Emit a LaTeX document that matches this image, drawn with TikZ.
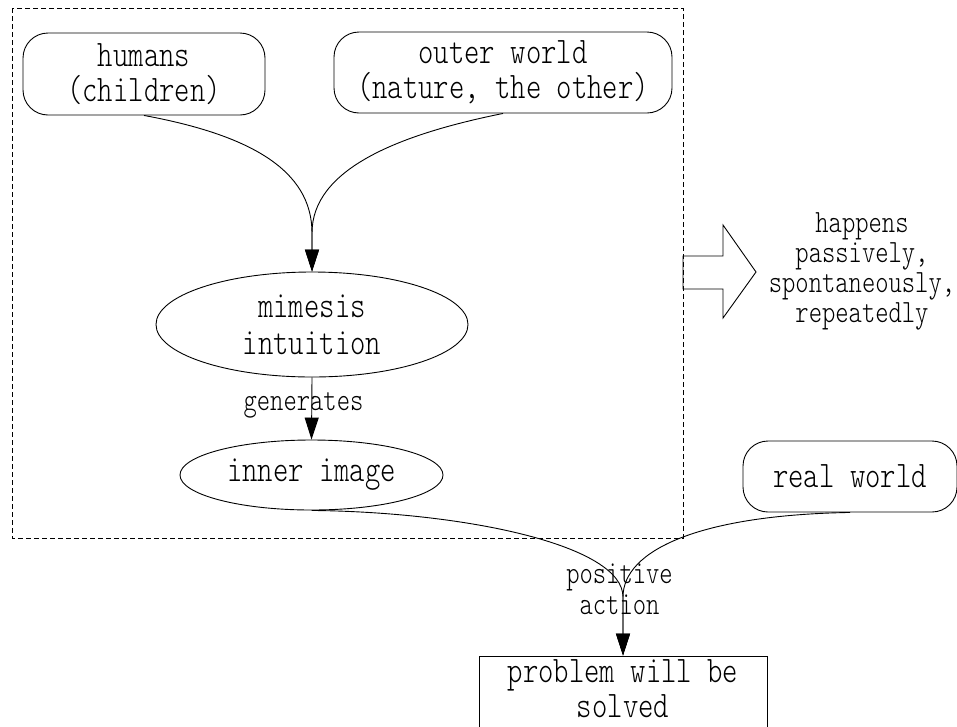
\documentclass[tikz,border=0pt]{standalone}
\usepackage{fontspec}
\usetikzlibrary{arrows.meta,shapes.geometric}
\newfontfamily\bigmono{lmmonolt10-regular.otf}[FakeStretch=0.78]
\tikzset{
  bigtxt/.style={font=\bigmono\fontsize{37.5}{35}\selectfont, align=center, inner sep=0pt},
  smalltxt/.style={font=\bigmono\fontsize{32.5}{30}\selectfont, align=center, inner sep=0pt},
  roundbox/.style={bigtxt, draw, rounded corners=25pt},
  ellnode/.style={bigtxt, draw, ellipse},
  conn/.style={line width=0.9pt},
  arr/.style={conn, -{Triangle[length=22pt,width=14pt]}},
}
\begin{document}
\begin{tikzpicture}[x=1pt,y=1pt,line width=0.9pt]
\clip (0,0) rectangle (957,-726);
\fill[white] (0,0) rectangle (957,-726);
% dashed cluster
\draw[dash pattern=on 5pt off 3pt, line width=0.8pt] (12,-8) rectangle (683,-538);
% nodes
\node[roundbox, minimum width=242pt, minimum height=82pt] (humans) at (144,-74) {humans\\(children)};
\node[roundbox, minimum width=338pt, minimum height=81pt] (outer) at (503,-72.5) {outer world\\(nature, the other)};
\node[ellnode, minimum width=312pt, minimum height=105pt] (mimesis) at (312,-324.5) {mimesis\\[2pt]intuition};
\node[ellnode, minimum width=263pt, minimum height=70pt] (inner) at (311.5,-475) {inner image};
\node[roundbox, minimum width=214pt, minimum height=71pt] (real) at (850,-476.5) {real world};
\node[draw, inner sep=0pt, minimum width=288pt, minimum height=100pt] (problem) at (623,-706) {};
\node[bigtxt] (problemtext) at (623,-689) {problem will be\\solved};
\node[smalltxt] (happens) at (862,-271) {happens\\passively,\\spontaneously,\\repeatedly};
% hollow arrow
\draw (683,-256) -- (723,-256) -- (723,-225) -- (756,-272) -- (723,-318) -- (723,-289) -- (683,-289) -- cycle;
% merge points
\coordinate (m1) at (312,-233);
\coordinate (m2) at (623,-597);
% edges
\draw[arr] (humans.south) .. controls (250,-135) and (312,-170) .. (m1) -- (mimesis.north);
\draw[arr] (outer.south) .. controls (396,-135) and (312,-170) .. (m1) -- (mimesis.north);
\draw[arr] (mimesis.south) -- (inner.north);
\node[smalltxt, anchor=base] (gen) at (303.5,-410) {generates};
\draw[arr] (inner.south) .. controls (465,-512) and (623,-545) .. (m2) -- (problem.north);
\draw[arr] (real.south) .. controls (700,-515) and (623,-550) .. (m2) -- (problem.north);
\node[smalltxt] (pos) at (619.5,-589) {positive\\[1pt]action};
\end{tikzpicture}
\end{document}
